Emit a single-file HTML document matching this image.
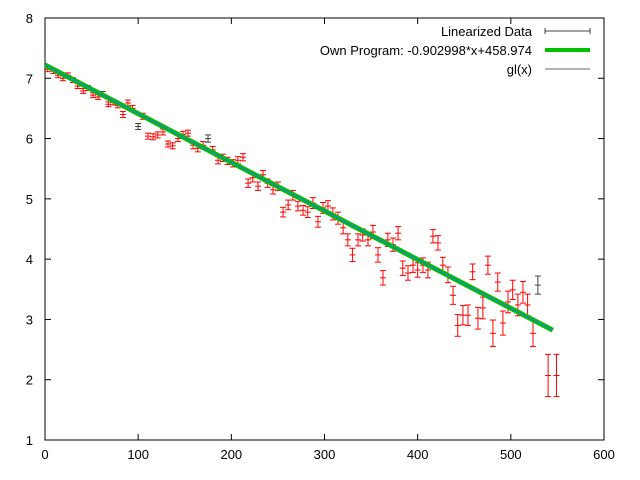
<!DOCTYPE html>
<html><head><meta charset="utf-8"><style>
body{margin:0;background:#fff}
svg{display:block;font-family:"Liberation Sans",sans-serif;font-size:13px}
</style></head><body>
<svg id="chart" width="640" height="480">
<g id="axes"></g>
<g id="marks"></g>
<g id="legend"></g>
</svg>
<script>
const xs=[3,9,14,19.3,24.7,30,35,41,46,51.5,57,62,68,73,78,83.7,89,94,100,105,110.5,116,121,126.6,132,137,142.7,148,153.5,159,164,169.6,175,180,185.7,191,196,201.8,207,212.5,218,223,228.6,234,239,244.7,250,255.5,261,266,271.5,277,282,287.6,293,298.4,303.7,309,314.5,320,325,330,336,341,346.7,352,357.4,362.8,368,373.5,379,384,389.6,395,400,405.7,411,416.4,421.8,427,432.5,438,443,448.6,454,459,464.7,470,475.4,480.8,486,491.5,497,502,507.6,513,518,523.8,529,540,549];
const ys=[7.15,7.12,7.05,7.0,7.05,6.97,6.87,6.79,6.84,6.72,6.69,6.74,6.57,6.6,6.55,6.4,6.59,6.5,6.2,6.37,6.04,6.03,6.06,6.11,5.91,5.88,6.0,6.07,6.09,5.89,5.84,5.89,6.0,5.81,5.64,5.68,5.63,5.59,5.64,5.69,5.26,5.35,5.21,5.4,5.26,5.15,5.21,4.78,4.9,5.06,4.88,4.81,4.78,4.93,4.62,4.85,4.88,4.75,4.68,4.52,4.32,4.07,4.32,4.4,4.32,4.45,4.07,3.69,4.32,4.24,4.43,3.85,3.77,3.9,3.82,3.9,3.82,4.38,4.27,3.9,3.74,3.4,2.9,3.07,3.07,3.79,3.02,3.19,3.9,2.77,3.62,2.94,3.29,3.49,3.24,3.45,3.24,2.77,3.57,2.07,2.07];
const errs=[0.04,0.04,0.04,0.04,0.04,0.04,0.04,0.04,0.04,0.04,0.04,0.04,0.04,0.04,0.04,0.05,0.05,0.05,0.05,0.05,0.05,0.05,0.05,0.05,0.05,0.05,0.05,0.05,0.05,0.06,0.06,0.06,0.06,0.06,0.06,0.06,0.06,0.06,0.06,0.06,0.07,0.07,0.07,0.07,0.07,0.07,0.07,0.08,0.08,0.08,0.08,0.08,0.09,0.09,0.09,0.09,0.09,0.1,0.1,0.1,0.1,0.11,0.1,0.1,0.1,0.11,0.12,0.12,0.11,0.11,0.11,0.12,0.12,0.12,0.12,0.12,0.13,0.11,0.12,0.13,0.13,0.15,0.18,0.16,0.17,0.13,0.18,0.18,0.15,0.22,0.15,0.2,0.18,0.16,0.18,0.18,0.18,0.22,0.15,0.35,0.35];
const grayIdx=[11,18,32,98];
const fitX=[0,545];
const fitSlope=-0.00807, fitIntercept=7.22;
const xTicks=[0,100,200,300,400,500,600];
const yTicks=[1,2,3,4,5,6,7,8];
const L=45,R=604,T=18,B=440;
const sx=v=>L+(v-0)/600*(R-L);
const sy=v=>B-(v-1)/7*(B-T);
const NS='http://www.w3.org/2000/svg';
function mk(p,tag,a){const e=document.createElementNS(NS,tag);for(const k in a)e.setAttribute(k,a[k]);p.appendChild(e);return e;}
const ax=document.getElementById('axes');
let fr=mk(ax,'rect',{x:L,y:T,width:R-L,height:B-T,fill:'none',stroke:'#000','stroke-width':1});


xTicks.forEach(t=>{const x=sx(t);
 mk(ax,'line',{x1:x,y1:B,x2:x,y2:B-6,stroke:'#000'});
 mk(ax,'line',{x1:x,y1:T,x2:x,y2:T+6,stroke:'#000'});
 const tx=mk(ax,'text',{x:x,y:B+19,'text-anchor':'middle'});tx.textContent=t;
 
 });
yTicks.forEach(t=>{const y=sy(t);
 mk(ax,'line',{x1:L,y1:y,x2:L+6,y2:y,stroke:'#000'});
 mk(ax,'line',{x1:R,y1:y,x2:R-6,y2:y,stroke:'#000'});
 const tx=mk(ax,'text',{x:L-12,y:y+5,'text-anchor':'end'});tx.textContent=t;
 
 });
const mg=document.getElementById('marks');
function ebar(g,x,y,e,col){const px=sx(x),y1=sy(y-e),y2=sy(y+e),py=sy(y);
 mk(g,'line',{x1:px,y1:y1,x2:px,y2:y2,stroke:col});
 mk(g,'line',{x1:px-3,y1:y1,x2:px+3,y2:y1,stroke:col});
 mk(g,'line',{x1:px-3,y1:y2,x2:px+3,y2:y2,stroke:col});
 mk(g,'line',{x1:px-3,y1:py,x2:px+3,y2:py,stroke:col});}
xs.forEach((x,i)=>{const g=mk(mg,'g',{});
 
 
 ebar(g,x,ys[i],errs[i],grayIdx.includes(i)?'#444':'#f00');});
const fl=mk(mg,'line',{x1:sx(fitX[0]),y1:sy(fitIntercept+fitSlope*fitX[0]),x2:sx(fitX[1]),y2:sy(fitIntercept+fitSlope*fitX[1]),stroke:'#00c000','stroke-width':5});


const gl=mk(mg,'line',{x1:sx(fitX[0]),y1:sy(fitIntercept+fitSlope*fitX[0]),x2:sx(fitX[1]),y2:sy(fitIntercept+fitSlope*fitX[1]),stroke:'#3070ff','stroke-width':1});


const lg=document.getElementById('legend');
const labels=['Linearized Data','Own Program: -0.902998*x+458.974','gl(x)'];
labels.forEach((s,i)=>{const y=31+i*19;
 const t=mk(lg,'text',{x:532,y:y+5,'text-anchor':'end'});t.textContent=s;
 
 
 if(i==0){mk(lg,'line',{x1:545,y1:y,x2:590,y2:y,stroke:'#444'});mk(lg,'line',{x1:545,y1:y-3,x2:545,y2:y+3,stroke:'#444'});mk(lg,'line',{x1:590,y1:y-3,x2:590,y2:y+3,stroke:'#444'});}
 else if(i==1){mk(lg,'line',{x1:545,y1:y,x2:590,y2:y,stroke:'#00c000','stroke-width':4});}
 else mk(lg,'line',{x1:545,y1:y,x2:590,y2:y,stroke:'#666'});});
</script>
</body></html>
